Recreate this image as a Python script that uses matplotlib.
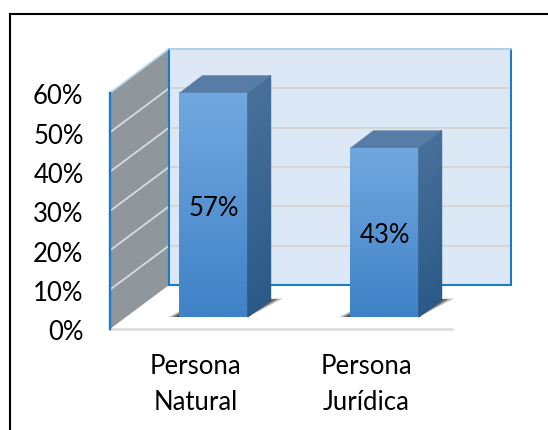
import numpy as np
import matplotlib
matplotlib.use("Agg")
import matplotlib.pyplot as plt
from matplotlib.patches import Polygon, Rectangle
from matplotlib.lines import Line2D
from matplotlib.transforms import ScaledTranslation
from matplotlib.colors import LinearSegmentedColormap

categories = ["Persona\nNatural", "Persona\nJurídica"]
values = [0.57, 0.43]
value_labels = ["57%", "43%"]
y_ticks = [0, 0.1, 0.2, 0.3, 0.4, 0.5, 0.6]
y_tick_labels = ["0%", "10%", "20%", "30%", "40%", "50%", "60%"]

W, H = 548, 430
DPI = 100
FONT = "Lato"
FS = 18.5
plt.rcParams["font.family"] = [FONT, "DejaVu Sans"]

fig = plt.figure(figsize=(W / DPI, H / DPI), dpi=DPI, facecolor="white")
# outer frame: only the top and left edges fall inside the picture
bx, by = 9.5 / W, 1 - 13.5 / H
fig.add_artist(Line2D([bx, 1], [by, by], transform=fig.transFigure, color="black", lw=1.5))
fig.add_artist(Line2D([bx, bx], [by, 0], transform=fig.transFigure, color="black", lw=1.5))

# front plane of the 3D box
L, R, T, B = 110, 452, 93, 329
ax = fig.add_axes([L / W, 1 - B / H, (R - L) / W, (B - T) / H])
ax.set_xlim(0, 2)
ax.set_ylim(0, 0.6)
ax.patch.set_visible(False)
for s in ax.spines.values():
    s.set_visible(False)


def off(dx, dy):
    """data transform shifted by a depth offset in pixels"""
    return ax.transData + ScaledTranslation(dx / DPI, dy / DPI, fig.dpi_scale_trans)


DX, DY = 59, 44  # depth of the box in pixels
back = off(DX, DY)
inv = ax.transData.inverted()
WALL = "#dde8f6"
BLUE = "#1b7cc4"
GRID = "#d6d6d6"
SIDE = "#8f969c"


def quad(pts, **kw):
    p = Polygon(inv.transform(np.array(pts)), closed=True, clip_on=False, **kw)
    ax.add_patch(p)
    return p


def depth_line(v):
    return inv.transform(np.vstack([ax.transData.transform((0, v)), back.transform((0, v))]))


# side wall
quad([ax.transData.transform((0, 0)), ax.transData.transform((0, 0.6)),
      back.transform((0, 0.6)), back.transform((0, 0))], fc=SIDE, ec="none", zorder=1)
ax.plot([0, 0], [0, 0.6], color=BLUE, lw=1.7, zorder=3, clip_on=False)

# back wall
x_end = 2
ax.add_patch(Rectangle((0, 0), x_end, 0.6, transform=back, fc=WALL, ec="none", zorder=1, clip_on=False))
ax.plot([0, 0], [0, 0.6], color=BLUE, lw=1.5, transform=back, zorder=2, clip_on=False)
ax.plot([x_end, x_end], [0, 0.6], color=BLUE, lw=1.5, transform=back, zorder=2, clip_on=False)
ax.plot([0, x_end], [0, 0], color=BLUE, lw=1.5, transform=back, zorder=2, clip_on=False)
ax.plot([0, x_end], [0.6, 0.6], color="#a9cbe6", lw=1.3, transform=back, zorder=2, clip_on=False)

# grid lines on the back wall and side wall
for v in y_ticks[1:-1]:
    ax.plot([0, x_end], [v, v], color=GRID, lw=1.5, transform=back, zorder=1.5, clip_on=False)
    q = depth_line(v)
    ax.plot(q[:, 0], q[:, 1], color="#d9dcde", lw=1.3, zorder=1.5, clip_on=False)
q = depth_line(0.6)
ax.plot(q[:, 0], q[:, 1], color="#b5d0e6", lw=1.3, zorder=1.6, clip_on=False)

# floor edge
ax.plot([0, 2], [0, 0], color="#dcdcdc", lw=1.8, zorder=2, clip_on=False)

# bars
gradient = LinearSegmentedColormap.from_list("g", ["#3f82c6", "#72a8e0"])
side_grad = LinearSegmentedColormap.from_list("s", ["#2a5a88", "#48709a"])
FX, FY = 18, 12    # bar front face depth offset, px
BX, BY = 23, 17.5  # bar depth, px
bw = 0.4
xs = np.arange(len(values)) + 0.5
ramp = np.linspace(1, 0, 128).reshape(-1, 1)

for x, v, lab in zip(xs, values, value_labels):
    tr = off(FX, FY)
    bl = tr.transform((x - bw / 2, 0))
    br = tr.transform((x + bw / 2, 0))
    tl = tr.transform((x - bw / 2, v))
    tr_ = tr.transform((x + bw / 2, v))
    d = np.array([BX, BY])
    # soft shadow on the floor
    quad([bl + (-11, 0), br, br + d + (12, 1), bl + d], fc="#c0c0c0", ec="none", zorder=2.2)
    quad([bl + (-7, 0), br, br + d + (7, 0.5), bl + d], fc="#707070", ec="none", zorder=2.25)
    quad([bl + (-3, 0), br, br + d + (2, 0), bl + d], fc="#3a3a3a", ec="none", zorder=2.3)
    # front face
    ax.imshow(ramp, cmap=gradient, aspect="auto", zorder=3, clip_on=False,
              extent=(x - bw / 2, x + bw / 2, 0, v), transform=tr)
    # right side face as a sheared gradient mesh
    t = np.linspace(0, 1, 40)
    lo = br + np.outer(t, tr_ - br)
    pts = np.vstack([lo, lo + d])
    dpts = inv.transform(pts)
    X = np.column_stack([dpts[:40, 0], dpts[40:, 0]])
    Y = np.column_stack([dpts[:40, 1], dpts[40:, 1]])
    C = np.column_stack([t, t])
    ax.pcolormesh(X, Y, C, cmap=side_grad, shading="gouraud", zorder=3, clip_on=False)
    # top face
    quad([tl, tr_, tr_ + d, tl + d], fc="#577ca6", ec="none", zorder=3)
    ax.text(x, v / 2, lab, transform=off(FX, FY - 3.5), ha="center", va="center",
            fontsize=FS, color="black", zorder=5)

ax.set_xlim(0, 2)
ax.set_ylim(0, 0.6)

# axes ticks and labels
ax.set_yticks(y_ticks)
ax.set_yticklabels(y_tick_labels, fontsize=FS, color="black")
ax.set_xticks(xs)
ax.set_xticklabels(categories, fontsize=FS, color="black", linespacing=1.55)
ax.tick_params(axis="y", length=0, pad=19)
ax.tick_params(axis="x", length=0, pad=18)
shift = ScaledTranslation(0, -1.5 / DPI, fig.dpi_scale_trans)
for lbl in ax.get_yticklabels():
    lbl.set_transform(lbl.get_transform() + shift)

fig.savefig("out.png", dpi=DPI)
